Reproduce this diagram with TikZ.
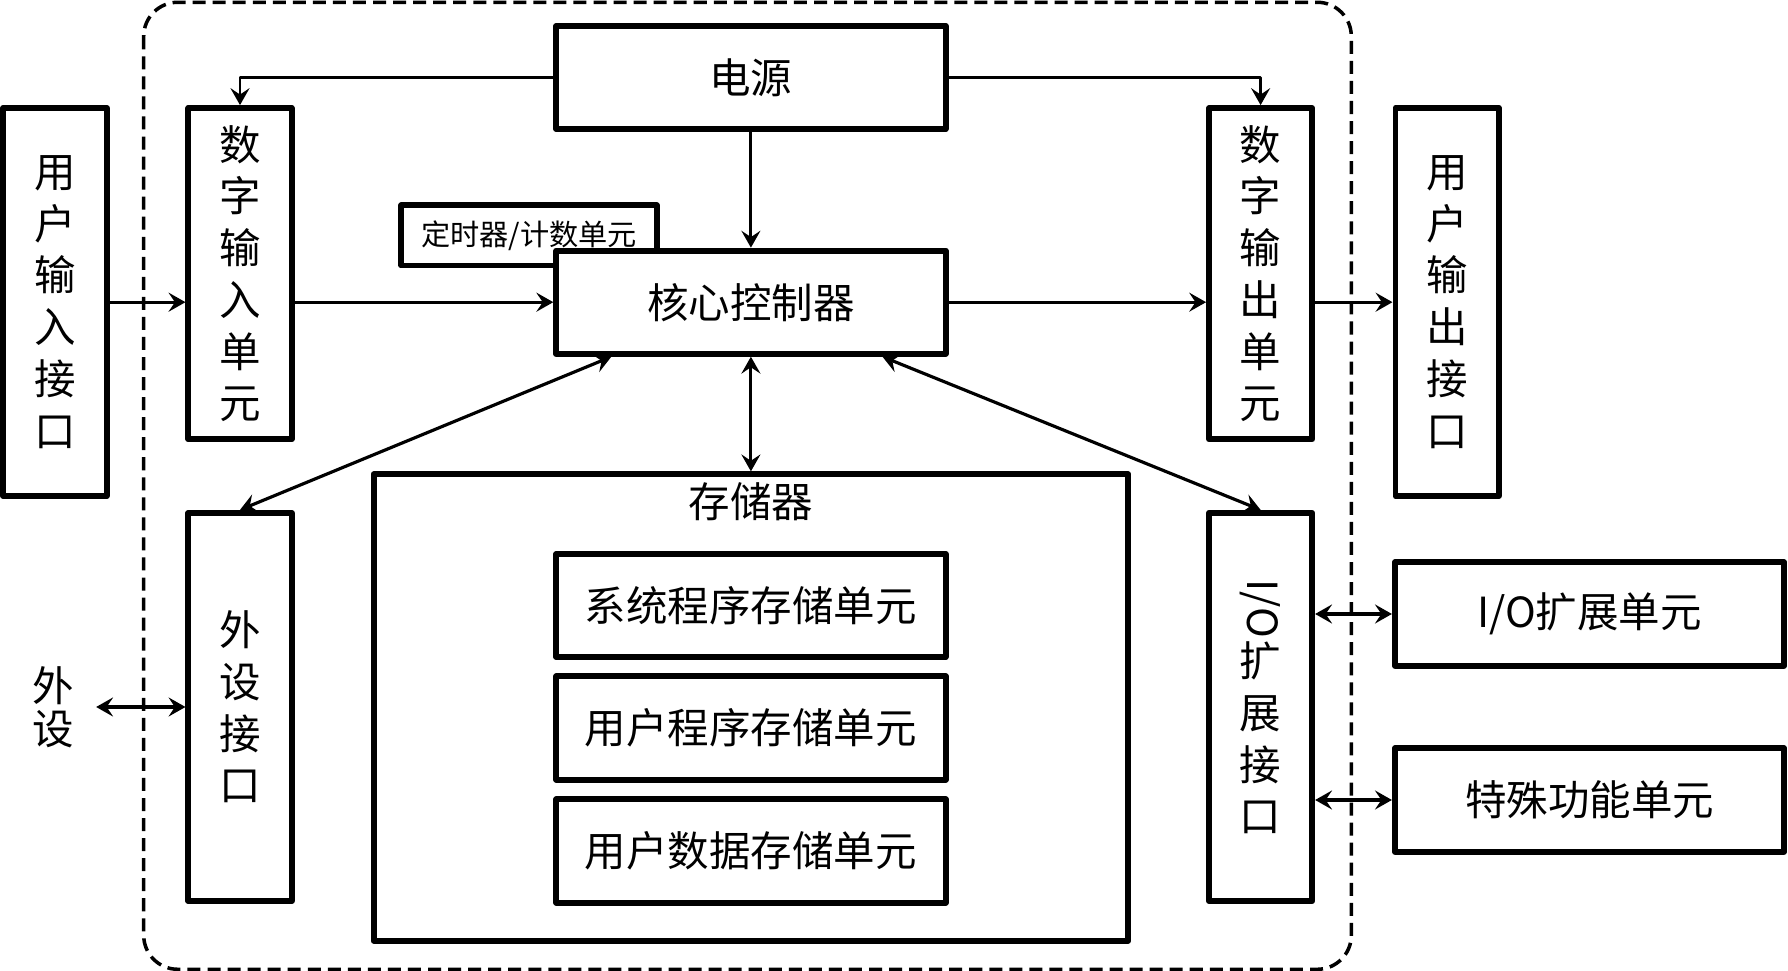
\documentclass[tikz,border=0pt]{standalone}
\usepackage{fontspec}
\setmainfont{Noto Sans CJK SC}
\usetikzlibrary{arrows.meta,positioning}
\tikzset{
	blk/.style={draw,line width=1.7pt,fill=white,inner sep=0pt,align=center,font=\fontsize{11.8pt}{14.7pt}\selectfont},
	hbox/.style={blk,minimum width=3.89cm,minimum height=1.03cm},
	vbox/.style={blk,minimum width=1.03cm},
	link/.style={line width=0.9pt},
	frame/.style={line width=1pt,dash pattern=on 3.7pt off 2pt,rounded corners=0.34cm}
}
\begin{document}
\begin{tikzpicture}[line join=round,>={Stealth[length=4.8pt,width=5.4pt,inset=1.8pt]},x=0.01cm,y=-0.01cm]
		\useasboundingbox (0,0) rectangle (1788,971);
		\draw [frame] (143.7,2.3) rectangle (1351.3,969.3);
		% boxes
		\node [vbox,minimum height=3.88cm] (uin) at (55,302) {用\\户\\输\\入\\接\\口};
		\node [vbox,minimum height=3.31cm] (din) at (240,273.7) {数\\字\\输\\入\\单\\元};
		\node [hbox] (power) at (750.9,77.5) {电源};
		\node [blk,minimum width=2.55cm,minimum height=0.6cm,font=\fontsize{8.3pt}{10pt}\selectfont] (timer) at (529,235.5) {定时器/计数单元};
		\node [hbox] (cpu) at (750.9,302.2) {核心控制器};
		\node [vbox,minimum height=3.31cm] (dout) at (1260.6,273.7) {数\\字\\输\\出\\单\\元};
		\node [vbox,minimum height=3.88cm] (uout) at (1447,302) {用\\户\\输\\出\\接\\口};
		\node [vbox,minimum height=3.88cm] (pif) at (240,707) {外\\设\\接\\口};
		\node [blk,minimum width=7.54cm,minimum height=4.66cm] (mem) at (750.9,707.5) {};
		\node [below=0.1cm of mem.north,inner sep=0pt,font=\fontsize{11.8pt}{14.7pt}\selectfont] (memlbl) {存储器};
		\node [hbox] (sysm) at (750.9,605.5) {系统程序存储单元};
		\node [hbox] (usrp) at (750.9,728) {用户程序存储单元};
		\node [hbox] (usrd) at (750.9,851) {用户数据存储单元};
		\node [vbox,minimum height=3.88cm] (ioif) at (1260.6,707) {\rotatebox{-90}{I/O}\\扩\\展\\接\\口};
		\node [hbox] (ioext) at (1589.5,614) {I/O扩展单元};
		\node [hbox] (spec) at (1589.5,800) {特殊功能单元};
		\node [align=center,inner sep=0pt,font=\fontsize{11.8pt}{12.3pt}\selectfont] (perip) at (53.6,707) {外\\设};
		% connectors
		\draw [link,line width=0.7pt,->] (power.west) -| (din.north);
		\draw [link,line width=0.7pt,->] (power.east) -| (dout.north);
		\draw [link,->] (power.south) -- (cpu.north);
		\draw [link,->] (uin.east |- cpu.west) -- (din.west |- cpu.west);
		\draw [link,->] (din.east |- cpu.west) -- (cpu.west);
		\draw [link,->] (cpu.east) -- (dout.west |- cpu.east);
		\draw [link,->] (dout.east |- cpu.east) -- (uout.west |- cpu.east);
		\draw [link,<->] (cpu.south) -- (mem.north);
		\draw [link,<->] ([xshift=0.58cm]cpu.south west) -- (pif.north);
		\draw [link,<->] ([xshift=-0.66cm]cpu.south east) -- (ioif.north);
		\draw [link,<->,shorten <=6pt] (perip.east) -- (pif.west);
		\draw [link,<->] (ioif.east |- ioext.west) -- (ioext.west);
		\draw [link,<->] (ioif.east |- spec.west) -- (spec.west);
	\end{tikzpicture}
\end{document}
